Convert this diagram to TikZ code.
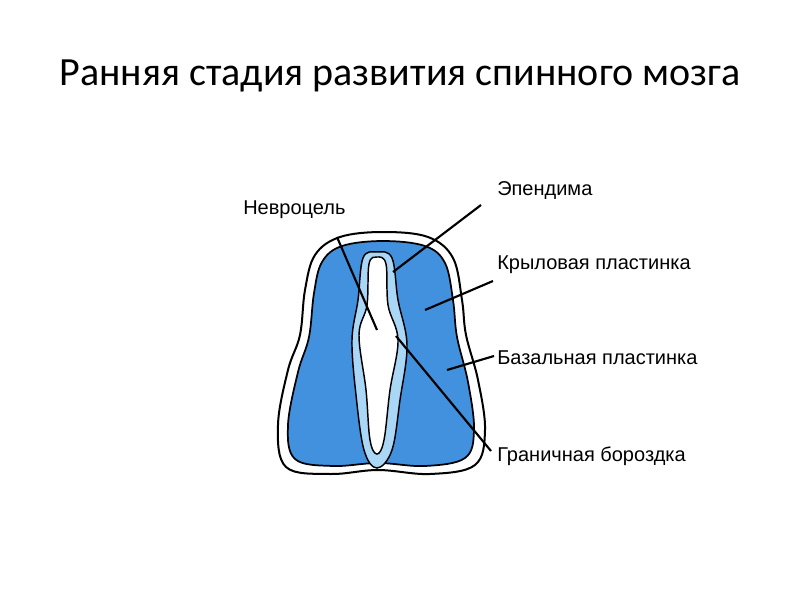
\documentclass[tikz,border=0pt]{standalone}
\usepackage{fontspec}
\setmainfont{Liberation Sans}
\newfontfamily\titlefont{Carlito}
\begin{document}
\begin{tikzpicture}[x=0.75pt,y=-0.75pt,
  lbl/.style={anchor=west,font=\fontsize{15}{18}\selectfont,inner sep=0pt},
  lead/.style={line width=1.6pt}]
\useasboundingbox (0,0) rectangle (800,600);
\node[font=\titlefont\fontsize{30}{36}\selectfont] (title) at (400,76) {Ранняя стадия развития спинного мозга};
% outer
\draw[line width=1.5pt,fill=white] plot[smooth cycle,tension=0.6] coordinates{
 (383,232) (428,237) (453,258) (462,300) (466,335) (478,380) (485,430) (475,465) (430,474) (378,470) (330,474) (286,467) (278,425) (288,370) (300,335) (305,290) (315,255) (340,237)};
% blue
\draw[line width=1.3pt,fill={rgb,255:red,65;green,145;blue,222}] plot[smooth cycle,tension=0.6] coordinates{
 (383,241) (425,246) (445,263) (453,300) (457,337) (468,382) (474,430) (465,458) (425,466) (378,463) (333,466) (295,459) (288,425) (298,372) (309,337) (314,293) (322,262) (342,246)};
% ependyma
\draw[line width=1.1pt,fill={rgb,255:red,170;green,215;blue,245}] plot[smooth cycle,tension=0.6] coordinates{
 (377,252) (392,258) (398,300) (407,345) (400,400) (392,450) (377,468) (364,450) (356,395) (352,340) (358,300) (363,258)};
% cavity
\draw[line width=1.1pt,fill=white] plot[smooth cycle,tension=0.6] coordinates{
 (377,257) (386,264) (388,305) (398,340) (390,390) (384,440) (377,454) (370,440) (366,390) (359,335) (367,305) (369,264)};
% labels
\node[lbl] (nev) at (243,210) {Невроцель};
\node[lbl] (epe) at (497,191) {Эпендима};
\node[lbl] (kry) at (497,265) {Крыловая пластинка};
\node[lbl] (baz) at (497,358) {Базальная пластинка};
\node[lbl] (gra) at (497,456) {Граничная бороздка};
\coordinate (nevE) at (377,330);
\coordinate (epeE) at (393,272);
\coordinate (kryE) at (425,310);
\coordinate (bazE) at (447,370);
\coordinate (graE) at (396,336);
\draw[lead] (337,237) -- (nevE);
\draw[lead] (481,205) -- (epeE);
\draw[lead] (493,281) -- (kryE);
\draw[lead] (494,356) -- (bazE);
\draw[lead] (491,451) -- (graE);
\end{tikzpicture}
\end{document}
